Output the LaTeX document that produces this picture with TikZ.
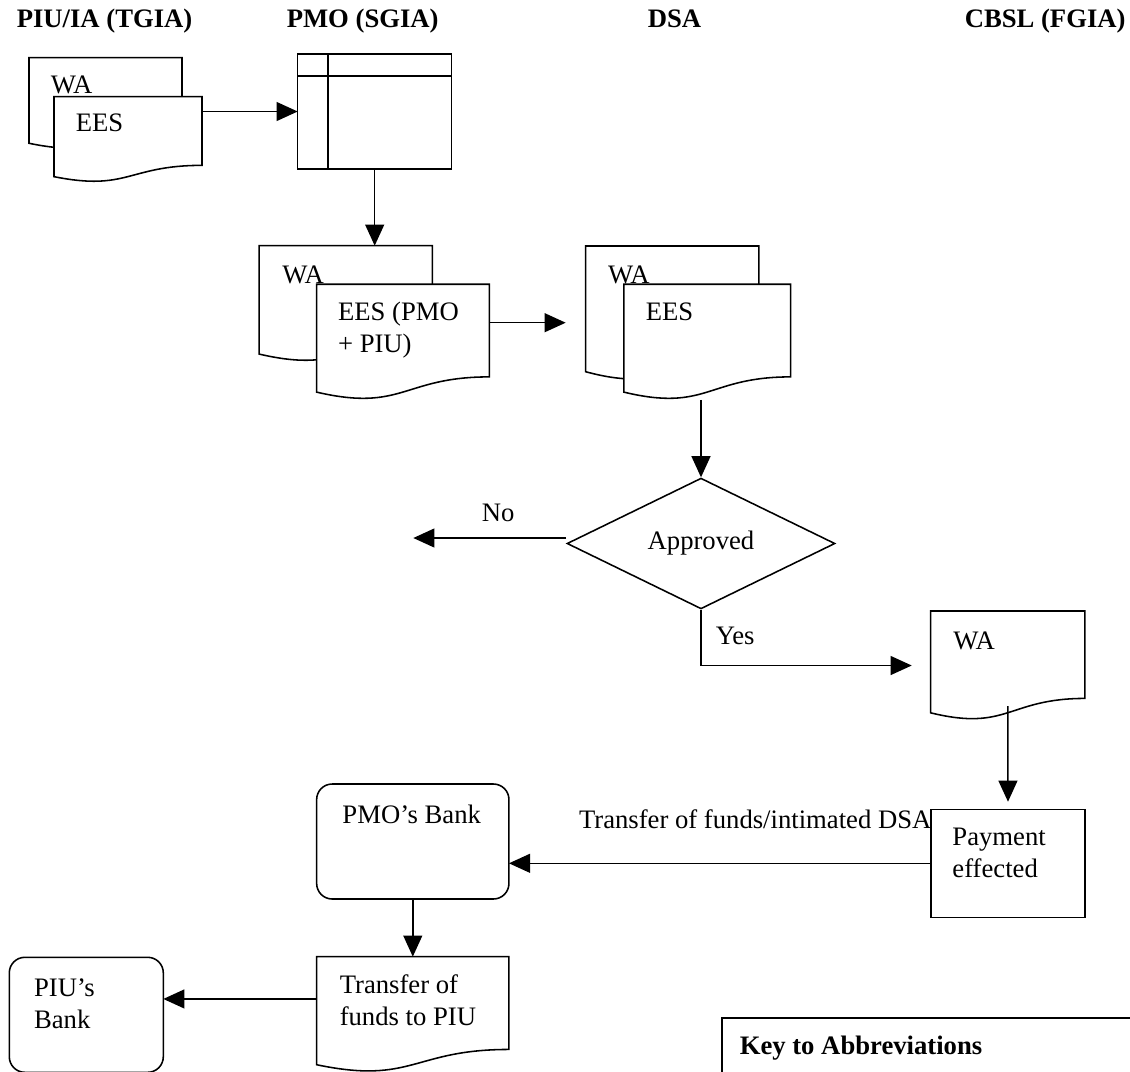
\documentclass[tikz,border=0pt]{standalone}
\usepackage{fontspec}
\setmainfont{Liberation Serif}
\usepackage{tikz}
\usetikzlibrary{arrows.meta}
\usetikzlibrary{shapes.geometric}
\usetikzlibrary{calc}
\tikzset{
    frame_node/.style 2 args = {rectangle, inner sep=0pt, outer sep=0pt, minimum width=#1*0.45pt, minimum height=#2*0.45pt},
    box_node/.style 2 args = {frame_node={#1}{#2}, draw=black},
    bank_node/.style 2 args = {frame_node={#1}{#2}, draw=black, rounded corners=7pt},
    decision_node/.style = {diamond, draw=black, inner sep=0pt, minimum width=120.6pt, minimum height=42.75pt},
    txt_node/.style = {anchor=base west, inner sep=0pt, align=left},
    head_node/.style = {txt_node, font=\fontsize{12}{14.4}\selectfont\bfseries}
}
\newcommand{\docoutline}[1]{%
    \draw[fill=white] (#1.north west) -- (#1.north east)
        -- ($(#1.north east)!0.802!(#1.south east)$)
        .. controls ($(#1.north)!0.802!(#1.south)$) and ($(#1.north)!1.108!(#1.south)$)
        .. ($(#1.north west)!0.934!(#1.south west)$) -- cycle;}

\begin{document}
\begin{tikzpicture}[x=0.45pt, y=-0.45pt, line width=0.7pt, font=\fontsize{12}{14.4}\selectfont,
        >={Triangle[length=9.5pt,width=8.5pt]}]
    \useasboundingbox (0,0) rectangle (1130,1071);
    \node[head_node] (h_piu) at (16,27) {PIU/IA (TGIA)};
    \node[head_node] (h_pmo) at (286,27) {PMO (SGIA)};
    \node[head_node] (h_dsa) at (647,27) {DSA};
    \node[head_node] (h_cbsl) at (964,27) {CBSL (FGIA)};

    \node[frame_node={153}{91.6}] (wa_a) at (105.5,103.5) {};
    \node[frame_node={148}{85.6}] (ees_a) at (128,139.5) {};
    \docoutline{wa_a}
    \docoutline{ees_a}
    \node[txt_node] (wa_a_t) at (50,93) {WA};
    \node[txt_node] (ees_a_t) at (75,131) {EES};

    \node[box_node={154}{115}] (store) at (374.7,111.5) {};
    \draw ([xshift=13.6pt]store.north west) -- ([xshift=13.6pt]store.south west);
    \draw ([yshift=-10pt]store.north west) -- ([yshift=-10pt]store.north east);

    \node[frame_node={173.3}{116}] (wa_b) at (345.7,303.7) {};
    \node[frame_node={172.6}{115.5}] (ees_b) at (403,342) {};
    \docoutline{wa_b}
    \docoutline{ees_b}
    \node[txt_node] (wa_b_t) at (281.7,283) {WA};
    \node[txt_node] (ees_b_t) at (337.3,352) {EES (PMO\\+ PIU)};

    \node[frame_node={173.3}{134.6}] (wa_c) at (672.3,313.3) {};
    \node[frame_node={166.7}{115.5}] (ees_c) at (707.3,342) {};
    \docoutline{wa_c}
    \docoutline{ees_c}
    \node[txt_node] (wa_c_t) at (607.3,283) {WA};
    \node[txt_node] (ees_c_t) at (645,320) {EES};

    \node[decision_node] (dec) at (701,543.5) {Approved};

    \node[frame_node={154.3}{109}] (wa_d) at (1007.8,665.5) {};
    \docoutline{wa_d}
    \node[txt_node] (wa_d_t) at (952.7,649.7) {WA};

    \node[box_node={154}{108}] (pay) at (1008,863.3) {};
    \node[txt_node] (pay_t) at (951.7,877) {Payment\\effected};

    \node[bank_node={192.3}{115}] (pmob) at (412.8,841.5) {};
    \node[txt_node] (pmob_t) at (341.7,823) {PMO’s Bank};

    \node[frame_node={192.3}{115.7}] (tfr) at (412.8,1014.5) {};
    \docoutline{tfr}
    \node[txt_node] (tfr_t) at (339,1025) {Transfer of\\funds to PIU};

    \node[bank_node={154}{115}] (piub) at (86.3,1014.8) {};
    \node[txt_node] (piub_t) at (33.3,1028) {PIU’s\\Bank};

    \draw[->] (ees_a.east |- store.west) -- (store.west);
    \draw[->] (store.south) -- (store.south |- wa_b.north);
    \coordinate (to_dsa) at (565.7,322.7);
    \draw[->] (ees_b.east |- to_dsa) -- (to_dsa);
    \draw[->] (dec.north |- ees_c.south) -- (dec.north);
    \coordinate (no_end) at (413.3,538);
    \draw[->] (dec.west |- no_end) -- (no_end);
    \node[txt_node] (no_t) at (481,521.7) {No};
    \draw[->] (dec.south) |- ([xshift=-8.5pt]wa_d.west);
    \node[txt_node] (yes_t) at (715,644) {Yes};
    \draw[->] ([yshift=6.3pt]wa_d.south) -- ([yshift=3.4pt]pay.north);
    \draw[->] (pay.west) -- (pay.west -| pmob.east);
    \node[txt_node] (fund_t) at (578.3,828.3) {Transfer of funds/intimated DSA};
    \draw[->] (pmob.south) -- (tfr.north);
    \coordinate (tfr_out) at ([yshift=7pt]tfr.west);
    \draw[->] (tfr_out) -- (tfr_out -| piub.east);

    \coordinate (key_c) at (722,1075);
    \draw (key_c) |- (1135,1018);
    \node[txt_node, font=\fontsize{12}{14.4}\selectfont\bfseries] (key_t) at (739,1054) {Key to Abbreviations};
\end{tikzpicture}
\end{document}
